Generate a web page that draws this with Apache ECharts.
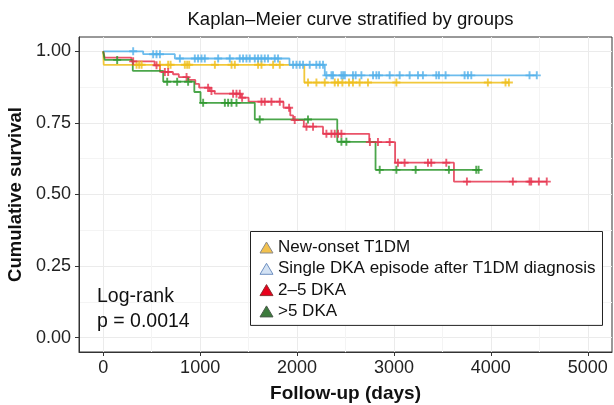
<!DOCTYPE html>
<html>
<head>
<meta charset="utf-8">
<script src="https://cdn.jsdelivr.net/npm/echarts@6/dist/echarts.min.js"></script>
<style>
  html, body { margin: 0; padding: 0; background: #fff; }
  #km_chart { width: 614px; height: 405px; }
</style>
</head>
<body>
<div id="km_chart"></div>
<script>
// step curves: time of each drop and survival after it (last point = end of follow-up)
const newOnsetTimes = [0, 5, 2075, 4190];
const newOnsetSurv = [1, 0.953, 0.891, 0.891];
const singleDkaTimes = [0, 412, 739, 1922, 2286, 4474];
const singleDkaSurv = [1, 0.99, 0.975, 0.953, 0.916, 0.916];
const dka25Times = [0, 15, 290, 530, 585, 720, 780, 880, 950, 990, 1100, 1150, 1420, 1500, 1860, 1930, 1960, 2070, 2268, 2745, 3012, 3619, 4580];
const dka25Surv = [1, 0.978, 0.965, 0.951, 0.928, 0.92, 0.91, 0.9, 0.886, 0.873, 0.861, 0.852, 0.838, 0.824, 0.803, 0.776, 0.76, 0.737, 0.712, 0.683, 0.611, 0.545, 0.545];
const dka5Times = [0, 15, 305, 619, 940, 1004, 1564, 2415, 2810, 3880];
const dka5Surv = [1, 0.97, 0.932, 0.894, 0.858, 0.82, 0.762, 0.684, 0.586, 0.586];

// censored observations (days)
const newOnsetCensor = [344, 371, 396, 585, 670, 695, 842, 866, 887, 1152, 1324, 1358, 1598, 1633, 1753, 1822, 2113, 2200, 2286, 2389, 2423, 2468, 2536, 2577, 2646, 2732, 3025, 3969, 4151, 4186];
const singleDkaCensor = [309, 515, 550, 585, 791, 945, 979, 1014, 1048, 1186, 1306, 1409, 1443, 1478, 1512, 1564, 1598, 1632, 1667, 1701, 1770, 1804, 1959, 1994, 2028, 2062, 2131, 2199, 2234, 2268, 2303, 2355, 2371, 2458, 2476, 2493, 2577, 2605, 2664, 2784, 2819, 2846, 2956, 3059, 3162, 3248, 3299, 3437, 3464, 3533, 3729, 3763, 3798, 4399, 4474];
const dka25Censor = [309, 550, 636, 670, 860, 1082, 1117, 1340, 1375, 1409, 1433, 1633, 1667, 1736, 1822, 1918, 1976, 2097, 2165, 2303, 2355, 2389, 2423, 2458, 2752, 2835, 2956, 3041, 3110, 3351, 3385, 3540, 3753, 4227, 4399, 4416, 4495, 4577];
const dka5Censor = [144, 660, 763, 876, 1031, 1255, 1289, 1324, 1375, 1615, 2113, 2458, 2509, 2853, 3025, 3224, 3567, 3849, 3873];

const groupNames = ["New-onset T1DM", "Single DKA episode after T1DM diagnosis", "2\u20135 DKA", ">5 DKA"];
const xTicks = [0, 1000, 2000, 3000, 4000, 5000];
const xMinorTicks = [500, 1500, 2500, 3500, 4500];
const yTicks = [0, 0.25, 0.5, 0.75, 1];
const yMinorTicks = [0.125, 0.375, 0.625, 0.875];

const lineColors = ["#EFBE1A", "#52B0EA", "#E6354F", "#2C962C"];
const legendFills = ["#F2C14E", "#D3E2F4", "#E8001C", "#3C7A3C"];
const legendStrokes = ["#8A8A8A", "#6E8FC0", "#8A3030", "#4A5A4A"];

const FONT = "'Liberation Sans', Arial, sans-serif";
const plusIcon = "path://M3.8,0h2.4v3.8h3.8v2.4h-3.8v3.8h-2.4v-3.8h-3.8v-2.4h3.8z";

function stepPoints(times, surv) {
  return times.map((t, i) => [t, surv[i]]);
}

function survAt(times, surv, t) {
  let s = surv[0];
  for (let i = 0; i < times.length; i++) {
    if (times[i] <= t) s = surv[i];
  }
  return s;
}

const curves = [
  [newOnsetTimes, newOnsetSurv, newOnsetCensor],
  [singleDkaTimes, singleDkaSurv, singleDkaCensor],
  [dka25Times, dka25Surv, dka25Censor],
  [dka5Times, dka5Surv, dka5Censor],
];

let series = [];
curves.forEach((c, i) => {
  series.push({
    name: groupNames[i],
    type: "line",
    step: "end",
    showSymbol: false,
    data: stepPoints(c[0], c[1]),
    lineStyle: { color: lineColors[i], width: 1.8, opacity: 0.85 },
    z: 3,
  });
  series.push({
    name: groupNames[i] + " censored",
    type: "scatter",
    symbol: plusIcon,
    symbolSize: 8,
    data: c[2].map((t) => [t, survAt(c[0], c[1], t)]),
    itemStyle: { color: lineColors[i] },
    z: 4,
  });
});

var chartDom = document.getElementById("km_chart");
var chart = echarts.init(chartDom, null, { renderer: "canvas" });

let option = {
  animation: false,
  backgroundColor: "#fff",
  textStyle: { fontFamily: FONT },
  title: {
    text: "Kaplan\u2013Meier curve stratified by groups",
    left: 345.5,
    top: 5,
    textAlign: "center",
    textStyle: { fontSize: 18.5, fontWeight: "normal", color: "#111" },
  },
  legend: {
    orient: "vertical",
    left: 250.5,
    top: 231.5,
    padding: [7.5, 7, 5.5, 9],
    itemWidth: 13,
    itemHeight: 11,
    itemGap: 4.3,
    backgroundColor: "#fff",
    borderColor: "#222",
    borderWidth: 1,
    borderRadius: 0,
    selectedMode: false,
    z: 10,
    textStyle: { fontSize: 17, lineHeight: 17, color: "#111", fontFamily: FONT },
    data: groupNames.map((name, i) => ({
      name: name,
      icon: "triangle",
      itemStyle: { color: legendFills[i], borderColor: legendStrokes[i], borderWidth: 1 },
    })),
  },
  grid: {
    left: 79,
    right: 2,
    top: 37,
    bottom: 53,
    outerBoundsMode: "none",
    containLabel: false,
    show: true,
    borderColor: "#333",
    borderWidth: 1,
    backgroundColor: "#fff",
  },
  xAxis: [
    {
      type: "value",
      min: -250,
      max: 5250,
      name: "Follow-up (days)",
      nameLocation: "middle",
      nameGap: 32,
      nameTextStyle: { fontSize: 19, fontWeight: "bold", color: "#111" },
      axisLine: { show: true, onZero: false, lineStyle: { color: "#333" } },
      axisTick: { show: true, length: 4, customValues: xTicks, lineStyle: { color: "#333" } },
      axisLabel: { customValues: xTicks, fontSize: 18, color: "#222", margin: 7, formatter: (v) => String(v) },
      splitLine: { show: true, lineStyle: { color: "#EBEBEB", width: 1 } },
    },
    {
      type: "value",
      min: -250,
      max: 5250,
      axisLine: { show: false },
      axisTick: { show: false, customValues: xMinorTicks },
      axisLabel: { show: false, customValues: xMinorTicks },
      splitLine: { show: true, lineStyle: { color: "#F4F4F4", width: 1 } },
    },
  ],
  yAxis: [
    {
      type: "value",
      min: -0.05,
      max: 1.05,
      name: "Cumulative survival",
      nameLocation: "middle",
      nameGap: 44,
      nameTextStyle: { fontSize: 18.5, fontWeight: "bold", color: "#111" },
      axisLine: { show: true, onZero: false, lineStyle: { color: "#333" } },
      axisTick: { show: true, length: 4, customValues: yTicks, lineStyle: { color: "#333" } },
      axisLabel: {
        customValues: yTicks,
        fontSize: 18,
        color: "#222",
        margin: 8,
        formatter: (v) => v.toFixed(2),
      },
      splitLine: { show: true, lineStyle: { color: "#EBEBEB", width: 1 } },
    },
    {
      type: "value",
      min: -0.05,
      max: 1.05,
      axisLine: { show: false },
      axisTick: { show: false, customValues: yMinorTicks },
      axisLabel: { show: false, customValues: yMinorTicks },
      splitLine: { show: true, lineStyle: { color: "#F4F4F4", width: 1 } },
    },
  ],
  graphic: [
    {
      type: "text",
      left: 97,
      top: 284,
      z: 100,
      style: {
        text: "Log-rank\np = 0.0014",
        font: "19.5px " + FONT,
        lineHeight: 25,
        fill: "#111",
      },
    },
  ],
  series: series,
};

option && chart.setOption(option);
</script>
</body>
</html>
